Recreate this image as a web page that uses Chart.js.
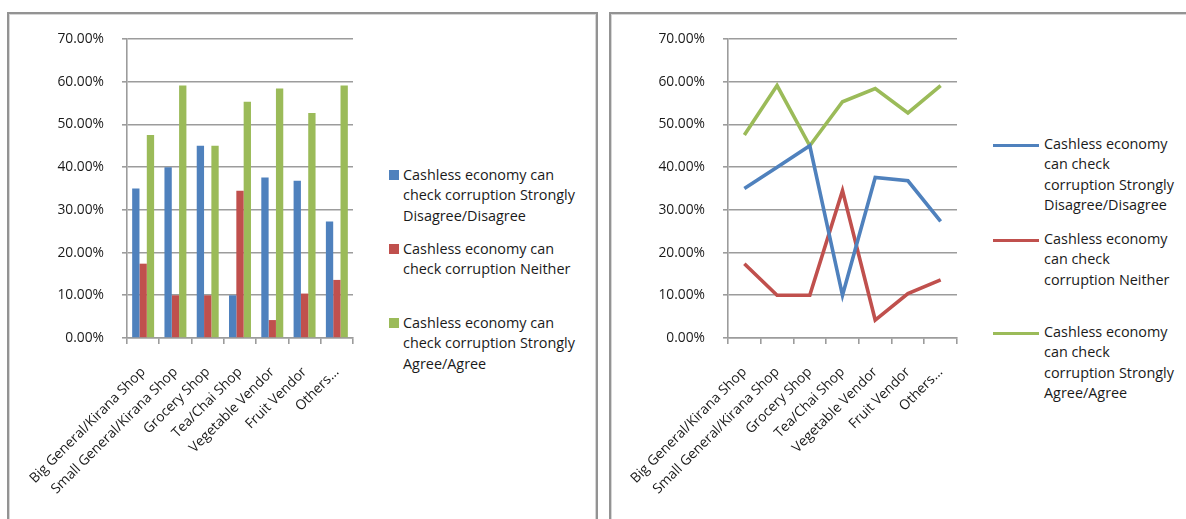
<!DOCTYPE html>
<html>
<head>
<meta charset="utf-8">
<script src="https://cdn.jsdelivr.net/npm/chart.js@4.4.1/dist/chart.umd.min.js"></script>
<style>
  html, body { margin: 0; padding: 0; background: #ffffff; }
  body { width: 1186px; height: 519px; position: relative; overflow: hidden; font-family: "Open Sans", Lato, sans-serif; }
  .panel { position: absolute; top: 12px; height: 560px; border: 2px solid #939393; border-bottom: none; box-shadow: inset 1px 1px 0 #d6d6d6, inset -1px 0 0 #d6d6d6; box-sizing: border-box; }
  canvas { position: absolute; top: 0; }
  .leg { position: absolute; font: 14.4px "Open Sans", sans-serif; color: #1a1a1a; line-height: 20.3px; white-space: nowrap; }
  .sq { position: absolute; width: 10px; height: 10px; }
  .ln { position: absolute; height: 3px; width: 46px; }
</style>
</head>
<body>
<div class="panel" style="left:7px; width:591px;"></div>
<div class="panel" style="left:609px; width:600px;"></div>

<div style="position:absolute; left:10px; top:0; width:350px; height:519px;"><canvas id="barChart" width="350" height="519"></canvas></div>
<div style="position:absolute; left:612px; top:0; width:352px; height:519px;"><canvas id="lineChart" width="352" height="519"></canvas></div>

<!-- bar chart legend -->
<div class="sq" style="left:389px; top:170px; background:#4F81BD;"></div>
<div class="leg" style="left:403px; top:165px;">Cashless economy can<br>check corruption Strongly<br>Disagree/Disagree</div>
<div class="sq" style="left:389px; top:244px; background:#C0504D;"></div>
<div class="leg" style="left:403px; top:239px;">Cashless economy can<br>check corruption Neither</div>
<div class="sq" style="left:389px; top:318px; background:#9BBB59;"></div>
<div class="leg" style="left:403px; top:313px;">Cashless economy can<br>check corruption Strongly<br>Agree/Agree</div>

<!-- line chart legend -->
<div class="ln" style="left:993px; top:144px; background:#4F81BD;"></div>
<div class="leg" style="left:1044px; top:134px;">Cashless economy<br>can check<br>corruption Strongly<br>Disagree/Disagree</div>
<div class="ln" style="left:993px; top:239px; background:#C0504D;"></div>
<div class="leg" style="left:1044px; top:229px;">Cashless economy<br>can check<br>corruption Neither</div>
<div class="ln" style="left:993px; top:332px; background:#9BBB59;"></div>
<div class="leg" style="left:1044px; top:322px;">Cashless economy<br>can check<br>corruption Strongly<br>Agree/Agree</div>

<script>
// Shop categories surveyed
const categories = [
  'Big General/Kirana Shop',
  'Small General/Kirana Shop',
  'Grocery Shop',
  'Tea/Chai Shop',
  'Vegetable Vendor',
  'Fruit Vendor',
  'Others...'
];

// Share of respondents (%) per answer
const disagree = [35.0, 40.0, 45.0, 10.0, 37.6, 36.8, 27.3];
const neither  = [17.4, 10.0, 10.0, 34.5, 4.2, 10.4, 13.6];
const agree    = [47.5, 59.1, 45.0, 55.3, 58.4, 52.7, 59.1];

const seriesNames = [
  'Cashless economy can check corruption Strongly Disagree/Disagree',
  'Cashless economy can check corruption Neither',
  'Cashless economy can check corruption Strongly Agree/Agree'
];

// Value axis: 0% to 70% in steps of 10%
const yMin = 0, yMax = 70, yStep = 10;

const colors = ['#4F81BD', '#C0504D', '#9BBB59'];
const gridColor = '#9c9c9c';
const textColor = '#1a1a1a';

function yScale(axisWidth) {
  return {
    min: yMin, max: yMax,
    afterFit: s => { s.width = axisWidth; s.paddingTop = 0; s.paddingBottom = 0; },
    ticks: {
      stepSize: yStep,
      color: textColor,
      font: { family: 'Open Sans', size: 13.8 },
      padding: 18,
      callback: v => v.toFixed(2) + '%'
    },
    grid: { color: gridColor, lineWidth: 1.6, tickLength: 5, drawTicks: true },
    border: { display: true, color: gridColor, width: 1.6 }
  };
}

function xScale() {
  return {
    offset: true,
    // keep the plot width fixed: no extra room for the rotated end labels
    afterFit: s => { s.height = 181; s.paddingLeft = 0; s.paddingRight = 0; },
    ticks: {
      color: textColor,
      font: { family: 'Open Sans', size: 13.8 },
      autoSkip: false,
      maxRotation: 45,
      minRotation: 45,
      padding: 20
    },
    grid: { offset: true, drawOnChartArea: false, drawTicks: true, tickLength: 6, color: gridColor, lineWidth: 1.6 },
    border: { display: true, color: gridColor, width: 1.6 }
  };
}

const common = {
  responsive: false,
  animation: false,
  plugins: { legend: { display: false }, tooltip: { enabled: false } },
  layout: { padding: { top: 39, right: 7, bottom: 0, left: 0 } }
};

new Chart(document.getElementById('barChart'), {
  type: 'bar',
  data: {
    labels: categories,
    datasets: [disagree, neither, agree].map((d, i) => ({
      label: seriesNames[i],
      data: d,
      backgroundColor: colors[i],
      borderWidth: 0,
      categoryPercentage: 0.68,
      barPercentage: 1.0
    }))
  },
  options: Object.assign({}, common, {
    scales: { x: xScale(), y: yScale(117) }
  })
});

new Chart(document.getElementById('lineChart'), {
  type: 'line',
  data: {
    labels: categories,
    datasets: [disagree, neither, agree].map((d, i) => ({
      label: seriesNames[i],
      data: d,
      borderColor: colors[i],
      backgroundColor: colors[i],
      borderWidth: 3.6,
      pointRadius: 0,
      tension: 0,
      fill: false
    }))
  },
  options: Object.assign({}, common, {
    scales: { x: xScale(), y: yScale(116) }
  })
});
</script>
</body>
</html>
